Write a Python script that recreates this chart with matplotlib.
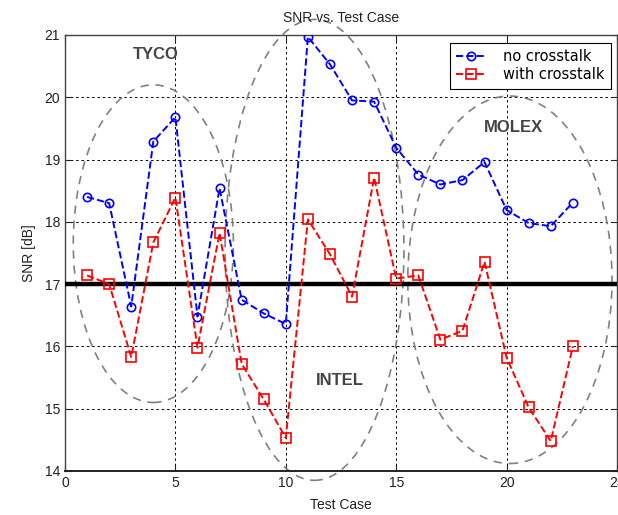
import matplotlib
matplotlib.use("Agg")
import matplotlib.pyplot as plt
from matplotlib.patches import Ellipse

test_case = list(range(1, 24))
no_crosstalk = [18.4, 18.3, 16.64, 19.29, 19.68, 16.48, 18.54, 16.75, 16.53, 16.36,
                20.97, 20.53, 19.95, 19.93, 19.19, 18.76, 18.6, 18.67, 18.96,
                18.19, 17.98, 17.93, 18.31]
with_crosstalk = [17.14, 17.0, 15.83, 17.67, 18.39, 15.98, 17.82, 15.72, 15.15, 14.53,
                  18.04, 17.48, 16.8, 18.71, 17.09, 17.14, 16.11, 16.25, 17.36,
                  15.82, 15.02, 14.48, 16.0]
threshold = 17.0

# groups: name, label position (x, y), ellipse centre (x, y), width, height
groups = ["TYCO", "INTEL", "MOLEX"]
label_pos = [(4.1, 20.68), (12.45, 15.46), (20.3, 19.52)]
ell_center = [(4.0, 17.65), (11.3, 17.55), (20.15, 17.07)]
ell_width = [7.25, 8.1, 9.25]
ell_height = [5.1, 7.4, 5.9]

xticks = [0, 5, 10, 15, 20, 25]
yticks = [14, 15, 16, 17, 18, 19, 20, 21]

plt.rcParams['font.family'] = ['Liberation Sans', 'DejaVu Sans']

fig = plt.figure(figsize=(6.18, 5.15), dpi=100)
ax = fig.add_axes([65 / 618, 44 / 515, 552 / 618, 436 / 515])

ax.set_xlim(0, 25)
ax.set_ylim(14, 21)
ax.set_xticks(xticks)
ax.set_yticks(yticks)
ax.tick_params(direction='in', top=True, right=True, labelsize=10, colors='#222222',
               length=4)
ax.grid(True, color='black', linestyle=(0, (2.5, 3)), linewidth=0.7)
for s in ax.spines.values():
    s.set_color('#444444')
    s.set_linewidth(1.0)
ax.spines['bottom'].set_color('#222222')
ax.spines['bottom'].set_linewidth(1.4)

ax.axhline(threshold, color='black', linewidth=3.2, zorder=3)

ax.plot(test_case, no_crosstalk, color='blue', linestyle='--', linewidth=1.4,
        marker='o', markersize=6, markerfacecolor='none', markeredgewidth=1.2,
        label='no crosstalk', zorder=4)
ax.plot(test_case, with_crosstalk, color='red', linestyle='--', linewidth=1.4,
        marker='s', markersize=7, markerfacecolor='none', markeredgewidth=1.2,
        label='with crosstalk', zorder=4)

for name, lp, c, w, h in zip(groups, label_pos, ell_center, ell_width, ell_height):
    e = Ellipse(c, w, h, fill=False, edgecolor='#808080', linestyle=(0, (5, 4)),
                linewidth=1.2, clip_on=False, zorder=2)
    ax.add_patch(e)
    ax.text(lp[0], lp[1], name, fontsize=12, fontweight='bold', color='#444444',
            ha='center', va='center', zorder=5)

ax.set_title('SNR vs. Test Case', fontsize=10, color='#222222', pad=9)
ax.set_xlabel('Test Case', fontsize=10, color='#222222', labelpad=6)
ax.set_ylabel('SNR [dB]', fontsize=10, color='#222222', labelpad=6)

leg = ax.legend(loc='upper right', bbox_to_anchor=(0.989, 0.982),
                prop={'family': 'DejaVu Sans', 'size': 10.5},
                frameon=True, fancybox=False, edgecolor='black', framealpha=1,
                handlelength=2.0, borderpad=0.45, labelspacing=0.2,
                handletextpad=1.2, borderaxespad=0)
leg.get_frame().set_linewidth(0.8)

fig.savefig('out.png', dpi=100)
